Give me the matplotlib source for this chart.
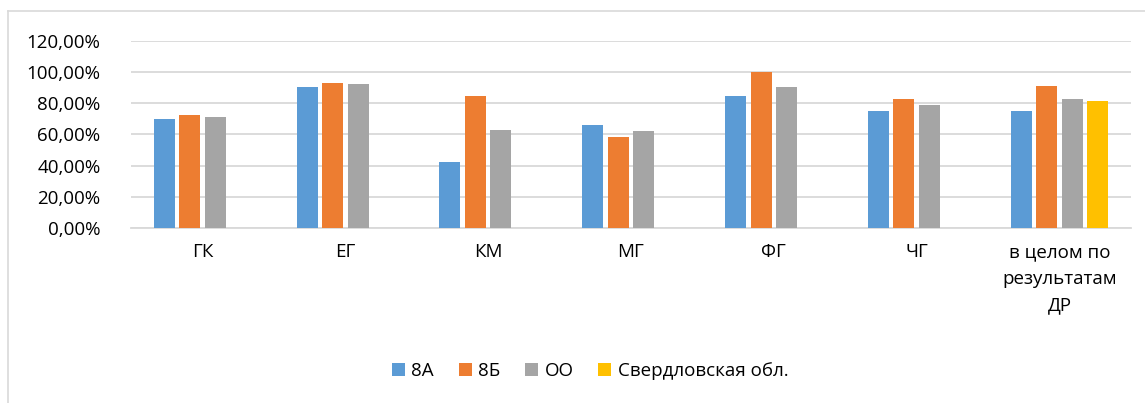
import matplotlib.pyplot as plt
import numpy as np
from matplotlib.lines import Line2D
from matplotlib.ticker import FuncFormatter, MultipleLocator

plt.rcParams['font.family'] = ['Open Sans', 'DejaVu Sans']

categories = ['ГК', 'ЕГ', 'КМ', 'МГ', 'ФГ', 'ЧГ', 'в целом по\nрезультатам\nДР']
series = ['8А', '8Б', 'ОО', 'Свердловская обл.']
v_8a = [69.7, 90.6, 42.3, 66.2, 84.4, 74.8, 74.8]
v_8b = [72.4, 93.2, 84.4, 58.1, 100.0, 82.9, 91.2]
v_oo = [70.9, 92.1, 62.6, 62.2, 90.6, 78.6, 82.9]
v_obl = [np.nan, np.nan, np.nan, np.nan, np.nan, np.nan, 81.2]
colors = ['#5B9BD5', '#ED7D31', '#A5A5A5', '#FFC000']

W, H = 1145, 403
fig = plt.figure(figsize=(W / 100, H / 100), dpi=100)
ax = fig.add_axes([131 / W, 1 - 228 / H, 1000 / W, (228 - 40.7) / H])

x = np.arange(len(categories))
step = 0.1786
bw = 0.147
for i, (name, vals) in enumerate(zip(series, [v_8a, v_8b, v_oo, v_obl])):
    ax.bar(x + (i - 1.5) * step, vals, width=bw, color=colors[i], label=name,
           zorder=3)

ax.set_xlim(-0.5, len(categories) - 0.5)
ax.set_ylim(0, 120)
ax.yaxis.set_major_locator(MultipleLocator(20))
ax.yaxis.set_major_formatter(FuncFormatter(lambda v, p: f'{v:.2f}%'.replace('.', ',')))
ax.grid(axis='y', color='#d9d9d9', linewidth=1.3, zorder=0)
ax.set_axisbelow(True)
for s in ['top', 'right', 'left']:
    ax.spines[s].set_visible(False)
ax.spines['bottom'].set_color('#d9d9d9')
ax.spines['bottom'].set_linewidth(1.3)
ax.tick_params(axis='both', length=0, labelsize=13.5, colors='#000000')
ax.tick_params(axis='y', pad=22)
ax.tick_params(axis='x', pad=11)
ax.set_xticks(x)
ax.set_xticklabels(categories, linespacing=1.6, va='top')

fig.legend(loc='center', bbox_to_anchor=(590 / W, 1 - 371 / H), ncol=4,
           frameon=False, fontsize=13.5, handlelength=0.7, handleheight=0.7,
           handletextpad=0.35, columnspacing=1.3)

# outer chart frame
fig.add_artist(Line2D([7.5 / W, 7.5 / W], [0, 1 - 11 / H], color='#d9d9d9', lw=1.2))
fig.add_artist(Line2D([7.5 / W, 1], [1 - 11 / H, 1 - 11 / H], color='#d9d9d9', lw=1.2))

fig.savefig('out.png', dpi=100)
